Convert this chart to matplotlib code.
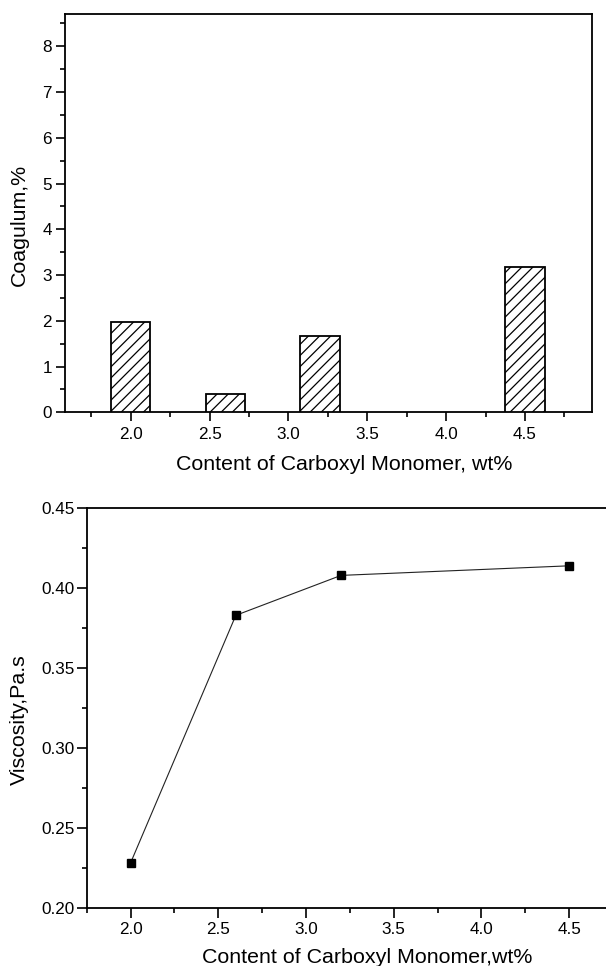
import matplotlib
matplotlib.use("Agg")
import matplotlib.pyplot as plt
from matplotlib.ticker import MultipleLocator

plt.rcParams['font.family'] = ['Liberation Sans', 'DejaVu Sans']
plt.rcParams['hatch.linewidth'] = 0.9

# Data
content = [2.0, 2.6, 3.2, 4.5]
coagulum = [1.98, 0.41, 1.67, 3.17]
viscosity = [0.228, 0.383, 0.408, 0.414]

xticks = [2.0, 2.5, 3.0, 3.5, 4.0, 4.5]
top_yticks = [0, 1, 2, 3, 4, 5, 6, 7, 8]
bot_yticks = [0.20, 0.25, 0.30, 0.35, 0.40, 0.45]

W, H = 606, 966
fig = plt.figure(figsize=(W / 100, H / 100), dpi=100)

def pos(l, t, r, b):
    return [l / W, 1 - b / H, (r - l) / W, (b - t) / H]

tick_fs = 12.3
label_fs = 15.4

# Top: bar chart
ax1 = fig.add_axes(pos(65, 14.3, 591.5, 412.3))
ax1.bar(content, coagulum, width=0.25, color='white', edgecolor='black',
        linewidth=1.3, hatch='///', zorder=3)
ax1.set_xlim(1.583, 4.922)
ax1.set_ylim(0, 8.7)
ax1.set_xticks(xticks)
ax1.set_xticklabels([f"{v:.1f}" for v in xticks])
ax1.set_yticks(top_yticks)
ax1.xaxis.set_minor_locator(MultipleLocator(0.25))
ax1.yaxis.set_minor_locator(MultipleLocator(0.5))
ax1.tick_params(axis='both', which='major', direction='out', length=6.5, width=1.2,
                labelsize=tick_fs, top=False, right=False)
ax1.tick_params(axis='both', which='minor', direction='out', length=3.5, width=1.2,
                top=False, right=False)
ax1.tick_params(axis='x', which='major', pad=4)
ax1.tick_params(axis='y', which='major', pad=3)
for s in ax1.spines.values():
    s.set_linewidth(1.3)
ax1.set_xlabel("Content of Carboxyl Monomer, wt%", fontsize=label_fs)
ax1.set_ylabel("Coagulum,%", fontsize=label_fs)
ax1.xaxis.set_label_coords(0.531, -0.107)
ax1.yaxis.set_label_coords(-0.068, 0.47)

# Bottom: line chart
ax2 = fig.add_axes(pos(86.7, 508.3, 613.0, 907.7))
ax2.plot(content, viscosity, color='#222222', linewidth=0.8, marker='s',
         markersize=6, markerfacecolor='black', markeredgecolor='black',
         clip_on=False, zorder=3)
ax2.set_xlim(1.75, 4.75)
ax2.set_ylim(0.20, 0.45)
ax2.set_xticks(xticks)
ax2.set_xticklabels([f"{v:.1f}" for v in xticks])
ax2.set_yticks(bot_yticks)
ax2.set_yticklabels([f"{v:.2f}" for v in bot_yticks])
ax2.xaxis.set_minor_locator(MultipleLocator(0.25))
ax2.yaxis.set_minor_locator(MultipleLocator(0.025))
ax2.tick_params(axis='both', which='major', direction='out', length=7, width=1.2,
                labelsize=tick_fs, top=False, right=False)
ax2.tick_params(axis='both', which='minor', direction='out', length=3.5, width=1.2,
                top=False, right=False)
ax2.tick_params(axis='x', which='major', pad=3.5)
ax2.tick_params(axis='y', which='major', pad=1.5)
for s in ax2.spines.values():
    s.set_linewidth(1.3)
ax2.set_xlabel("Content of Carboxyl Monomer,wt%", fontsize=label_fs)
ax2.set_ylabel("Viscosity,Pa.s", fontsize=label_fs)
ax2.xaxis.set_label_coords(0.532, -0.1)
ax2.yaxis.set_label_coords(-0.11, 0.47)

fig.savefig("out.png", dpi=100)
